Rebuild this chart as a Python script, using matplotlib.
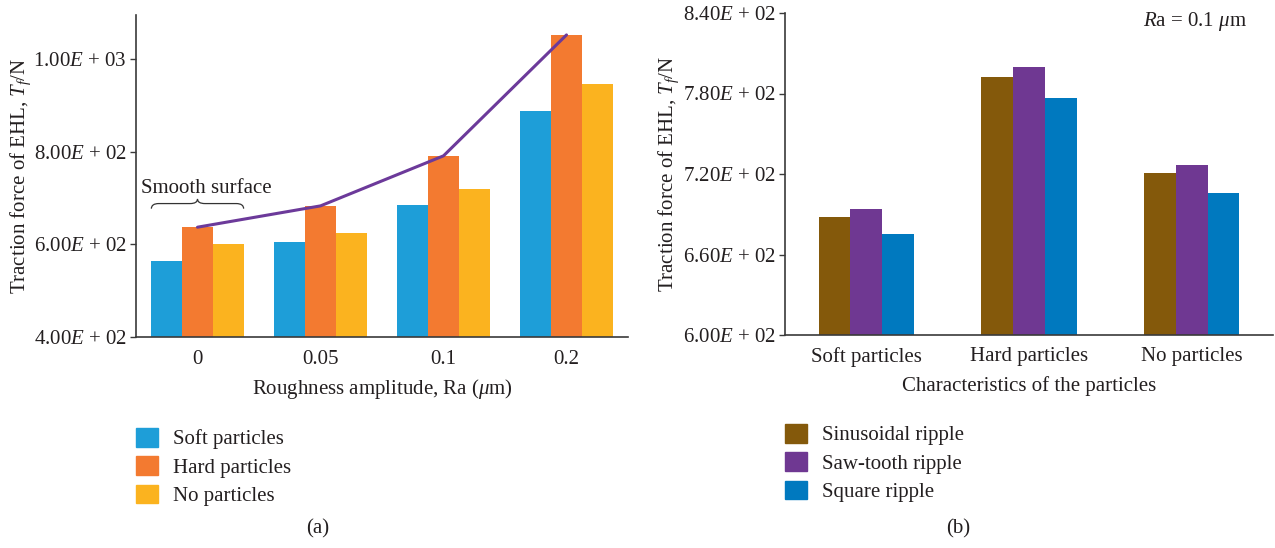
import numpy as np
import matplotlib
matplotlib.use("Agg")
import matplotlib.pyplot as plt
from matplotlib.path import Path
from matplotlib.patches import PathPatch, Patch

plt.rcParams['font.family'] = ['Liberation Serif', 'DejaVu Serif']
plt.rcParams['mathtext.fontset'] = 'custom'
plt.rcParams['mathtext.rm'] = 'Liberation Serif'
plt.rcParams['mathtext.it'] = 'Liberation Serif:italic'
plt.rcParams['mathtext.bf'] = 'Liberation Serif:bold'

TEXT = '#231F20'
SPINE = '#3a3a3a'

# ---------------- data (a) ----------------
ra_labels = ['0', '0.05', '0.1', '0.2']
soft_a = [564, 605, 685, 888]
hard_a = [637, 683, 791, 1052]
none_a = [601, 624, 719, 946]
series_a = ['Soft particles', 'Hard particles', 'No particles']
colors_a = ['#1E9ED8', '#F37A30', '#FBB31F']
line_color = '#6C3A9A'
yticks_a = [400, 600, 800, 1000]

# ---------------- data (b) ----------------
particle_labels = ['Soft particles', 'Hard particles', 'No particles']
sinus_b = [688, 792, 721]
saw_b = [694, 800, 727]
square_b = [675, 777, 706]
series_b = ['Sinusoidal ripple', 'Saw-tooth ripple', 'Square ripple']
colors_b = ['#84590B', '#6F3892', '#0079BF']
yticks_b = [600, 660, 720, 780, 840]


def sci_label(v):
    m, e = f"{v:.2E}".split('E')
    sign = '+' if int(e) >= 0 else '-'
    return f"{m}$\\it{{E}}$ {sign} {abs(int(e)):02d}"


W, H = 1275, 548
fig = plt.figure(figsize=(W / 100, H / 100), dpi=100)

FS = 15

def style_axes(ax):
    for s in ['top', 'right']:
        ax.spines[s].set_visible(False)
    for s in ['left', 'bottom']:
        ax.spines[s].set_color(SPINE)
        ax.spines[s].set_linewidth(1.2)
    ax.tick_params(axis='y', direction='out', length=4.5, width=1.0, color=SPINE,
                   labelsize=FS, labelcolor=TEXT, pad=2)
    ax.tick_params(axis='x', length=0, labelsize=FS, labelcolor=TEXT, pad=9)

# ---------------- panel (a) ----------------
axa = fig.add_axes([136 / W, 1 - 337 / H, 492 / W, 322 / H])
x = np.arange(len(ra_labels))
bw = 0.25
for i, (vals, c, lab) in enumerate(zip([soft_a, hard_a, none_a], colors_a, series_a)):
    axa.bar(x + (i - 1) * bw, np.array(vals) - 400, bw, bottom=400, color=c, label=lab)
axa.plot(x, hard_a, color=line_color, lw=2.2, solid_capstyle='round', zorder=5)
axa.set_xlim(-0.5, 3.5)
axa.set_ylim(400, 1095)
axa.set_yticks(yticks_a)
axa.set_yticklabels([sci_label(v) for v in yticks_a])
axa.set_xticks(x)
axa.set_xticklabels(ra_labels)
style_axes(axa)
axa.set_xlabel('Roughness amplitude, Ra ($\\mu$m)', fontsize=FS, color=TEXT, labelpad=6)
axa.set_ylabel('Traction force of EHL, $T_f$/N', fontsize=FS, color=TEXT, labelpad=0)

# brace over the smooth-surface group
x0 = x[0] - 1.5 * bw
x1 = x[0] + 1.5 * bw
xm = (x0 + x1) / 2
ylow, ymid, yhigh = 677, 688, 698
d = 0.06
verts = [(x0, ylow), (x0, ymid), (x0 + d, ymid), (xm - d, ymid), (xm, ymid), (xm, yhigh),
         (xm, ymid), (xm + d, ymid), (x1 - d, ymid), (x1, ymid), (x1, ylow)]
codes = [Path.MOVETO, Path.CURVE3, Path.CURVE3, Path.LINETO, Path.CURVE3, Path.CURVE3,
         Path.CURVE3, Path.CURVE3, Path.LINETO, Path.CURVE3, Path.CURVE3]
axa.add_patch(PathPatch(Path(verts, codes), fill=False, lw=0.9, ec='#333333'))
axa.text(xm + 0.07, 700, 'Smooth surface', ha='center', va='bottom', fontsize=FS, color=TEXT)

handles_a = [Patch(color=c, label=l) for c, l in zip(colors_a, series_a)]
fig.legend(handles=handles_a, loc='upper left', bbox_to_anchor=(136 / W, 1 - 428 / H),
           frameon=False, fontsize=FS, handlelength=1.06, handleheight=1.0,
           handletextpad=0.72, labelspacing=0.33, borderpad=0, borderaxespad=0,
           labelcolor=TEXT)
fig.text(318 / W, 1 - 529 / H, '(a)', ha='center', va='center', fontsize=FS, color=TEXT)

# ---------------- panel (b) ----------------
axb = fig.add_axes([785 / W, 1 - 335 / H, 488 / W, 322 / H])
xb = np.arange(len(particle_labels))
bwb = 0.195
for i, (vals, c, lab) in enumerate(zip([sinus_b, saw_b, square_b], colors_b, series_b)):
    axb.bar(xb + (i - 1) * bwb, np.array(vals) - 600, bwb, bottom=600, color=c, label=lab)
axb.set_xlim(-0.5, 2.5)
axb.set_ylim(600, 840)
axb.set_yticks(yticks_b)
axb.set_yticklabels([sci_label(v) for v in yticks_b])
axb.set_xticks(xb)
axb.set_xticklabels(particle_labels)
style_axes(axb)
axb.set_xlabel('Characteristics of the particles', fontsize=FS, color=TEXT, labelpad=6)
axb.set_ylabel('Traction force of EHL, $T_f$/N', fontsize=FS, color=TEXT, labelpad=1.5)
axb.text(0.947, 0.975, '$R$a = 0.1 $\\mu$m', transform=axb.transAxes,
         ha='right', va='center', fontsize=FS, color=TEXT)

handles_b = [Patch(color=c, label=l) for c, l in zip(colors_b, series_b)]
fig.legend(handles=handles_b, loc='upper left', bbox_to_anchor=(785 / W, 1 - 424 / H),
           frameon=False, fontsize=FS, handlelength=1.06, handleheight=1.0,
           handletextpad=0.72, labelspacing=0.33, borderpad=0, borderaxespad=0,
           labelcolor=TEXT)
fig.text(958 / W, 1 - 529 / H, '(b)', ha='center', va='center', fontsize=FS, color=TEXT)

fig.savefig('out.png', dpi=100, facecolor='white')
